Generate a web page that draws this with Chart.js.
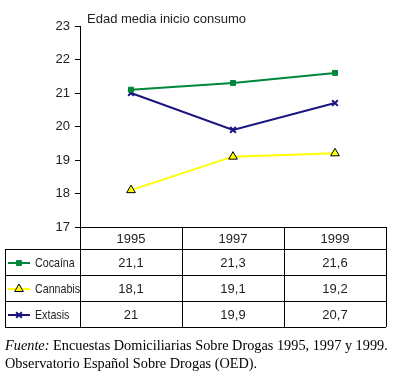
<!DOCTYPE html>
<html>
<head>
<meta charset="utf-8">
<script src="https://cdn.jsdelivr.net/npm/chart.js@4/dist/chart.umd.min.js"></script>
<style>
  body { margin: 0; background: #fff; }
  #wrap { position: relative; width: 400px; height: 377px; }
  #fuente {
    position: absolute; left: 5px; top: 336px; width: 395px;
    font-family: "Liberation Serif", "Times New Roman", serif;
    font-size: 14.3px; line-height: 18px; color: #000;
  }
</style>
</head>
<body>
<div id="wrap">
  <canvas id="chart" width="400" height="377"></canvas>
  <div id="fuente"><i>Fuente:</i> Encuestas Domiciliarias Sobre Drogas 1995, 1997 y 1999.<br>Observatorio Español Sobre Drogas (OED).</div>
</div>
<script>
const years = ["1995", "1997", "1999"];
const seriesNames = ["Cocaína", "Cannabis", "Extasis"];
const cocaina = [21.1, 21.3, 21.6];
const cannabis = [18.1, 19.1, 19.2];
const extasis = [21, 19.9, 20.7];
const yTicks = [17, 18, 19, 20, 21, 22, 23];
const chartTitle = "Edad media inicio consumo";

const font = '"Liberation Sans", Arial, sans-serif';
const fmt = v => String(v).replace('.', ',');

// title top-left and data table below the plot
const tablePlugin = {
  id: 'tabla',
  afterDraw(chart) {
    const ctx = chart.ctx;
    const area = chart.chartArea;
    const x = chart.scales.x;
    const colW = (area.right - area.left) / years.length;
    const tableLeft = 5;
    const headH = 22, rowH = 26;
    const top = area.bottom;

    ctx.save();
    ctx.fillStyle = '#222';
    ctx.font = '13px ' + font;
    ctx.textAlign = 'left';
    ctx.textBaseline = 'middle';
    ctx.fillText(chartTitle, area.left + 7, 19);

    ctx.strokeStyle = '#000';
    ctx.lineWidth = 1;
    const bottom = top + headH + rowH * seriesNames.length;
    ctx.beginPath();
    ctx.moveTo(area.left, top + 0.5); ctx.lineTo(area.right, top + 0.5);
    for (let r = 0; r <= seriesNames.length; r++) {
      const yy = Math.round(top + headH + r * rowH) + 0.5;
      ctx.moveTo(tableLeft, yy); ctx.lineTo(area.right, yy);
    }
    for (let c = 0; c <= years.length; c++) {
      const xx = Math.round(area.left + c * colW) + 0.5;
      ctx.moveTo(xx, top); ctx.lineTo(xx, bottom);
    }
    ctx.moveTo(tableLeft + 0.5, top + headH); ctx.lineTo(tableLeft + 0.5, bottom);
    ctx.stroke();

    ctx.textAlign = 'center';
    years.forEach((y, i) => {
      ctx.fillText(y, x.getPixelForValue(i), top + headH / 2 + 1);
    });

    chart.data.datasets.forEach((ds, r) => {
      const cy = top + headH + r * rowH + rowH / 2 + 1;
      ctx.fillStyle = '#222';
      ctx.font = '13px ' + font;
      ctx.textAlign = 'center';
      ds.data.forEach((v, i) => {
        ctx.fillText(fmt(v), x.getPixelForValue(i), cy);
      });
      // row label, squeezed horizontally like the original narrow font
      ctx.save();
      ctx.textAlign = 'left';
      ctx.translate(35, cy);
      ctx.scale(0.82, 1);
      ctx.fillText(ds.label, 0, 0);
      ctx.restore();
      // legend sample
      ctx.strokeStyle = ds.borderColor;
      ctx.lineWidth = 2;
      ctx.beginPath();
      ctx.moveTo(8, cy); ctx.lineTo(30, cy);
      ctx.stroke();
      ctx.fillStyle = ds.pointBackgroundColor;
      ctx.strokeStyle = ds.pointBorderColor;
      ctx.lineWidth = ds.pointBorderWidth;
      Chart.helpers.drawPoint(ctx, {
        pointStyle: ds.pointStyle, radius: ds.pointRadius, rotation: 0,
        borderWidth: ds.pointBorderWidth
      }, 19, cy);
    });
    ctx.restore();
  }
};

const data = {
  labels: years,
  datasets: [{
    label: seriesNames[0],
    data: cocaina,
    borderColor: '#00873a',
    borderWidth: 2,
    pointStyle: 'rect',
    pointRadius: 3.5,
    pointBackgroundColor: '#00873a',
    pointBorderColor: '#00873a',
    pointBorderWidth: 1
  }, {
    label: seriesNames[1],
    data: cannabis,
    borderColor: '#ffff00',
    borderWidth: 2,
    pointStyle: 'triangle',
    pointRadius: 5,
    pointBackgroundColor: '#ffff00',
    pointBorderColor: '#000',
    pointBorderWidth: 1
  }, {
    label: seriesNames[2],
    data: extasis,
    borderColor: '#1a1480',
    borderWidth: 2,
    pointStyle: 'crossRot',
    pointRadius: 4,
    pointBackgroundColor: '#1a1480',
    pointBorderColor: '#1a1480',
    pointBorderWidth: 2
  }]
};

const config = {
  type: 'line',
  data: data,
  options: {
    responsive: false,
    animation: false,
    layout: { padding: { top: 26, right: 14, bottom: 150, left: 0 } },
    plugins: {
      legend: { display: false },
      title: { display: false },
      tooltip: { enabled: false }
    },
    scales: {
      x: {
        type: 'category',
        offset: true,
        display: false
      },
      y: {
        min: 17,
        max: 23,
        afterBuildTicks: (s) => { s.ticks = yTicks.map(v => ({ value: v })); },
        afterFit: (s) => { s.width = 80; },
        border: { display: true, color: '#000', width: 1 },
        grid: { drawOnChartArea: false, drawTicks: true, tickLength: 5, color: '#000' },
        ticks: { color: '#222', padding: 5, font: { family: font, size: 13 } }
      }
    }
  },
  plugins: [tablePlugin]
};

var chart = new Chart(document.getElementById('chart'), config);
</script>
</body>
</html>
